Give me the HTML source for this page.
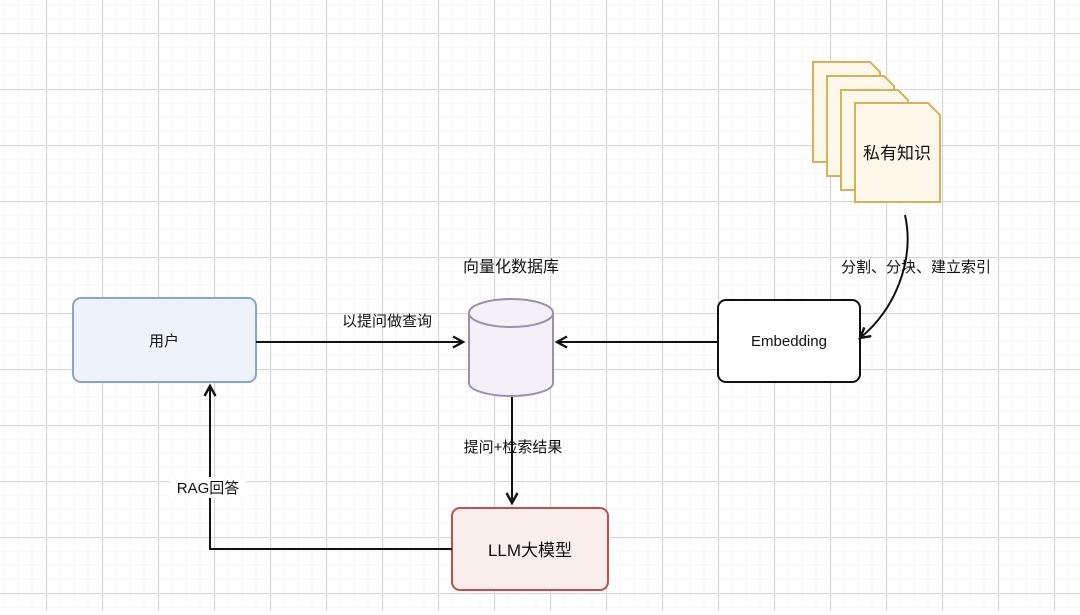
<!DOCTYPE html>
<html><head><meta charset="utf-8"><style>
body{margin:0;width:1080px;height:610px;overflow:hidden;background:#fff;font-family:"Liberation Sans","Noto Sans CJK SC",sans-serif;}
</style></head><body>
<svg width="1080" height="610" xmlns="http://www.w3.org/2000/svg" font-family="Liberation Sans, Noto Sans CJK SC, sans-serif">
<defs>
<pattern id="g" x="46" y="33" width="56" height="56" patternUnits="userSpaceOnUse">
<path d="M14 0V56M28 0V56M42 0V56M0 14H56M0 28H56M0 42H56" stroke="#f4f4f4" stroke-width="1" fill="none"/>
<path d="M0.5 0V56M0 0.5H56" stroke="#d6d6d6" stroke-width="1.3" fill="none"/>
</pattern>
<marker id="a" markerWidth="14" markerHeight="14" refX="11" refY="7" orient="auto" markerUnits="userSpaceOnUse"><path d="M1 1.5L11 7L1 12.5" fill="none" stroke="#111" stroke-width="2.4"/></marker>
</defs>
<rect width="1080" height="610" fill="url(#g)"/>
<g stroke="#d4b25a" stroke-width="2" fill="#fdf8ea">
<path d="M813 62H870L880 72V162H813Z"/>
<path d="M827 76H884L894 86V176H827Z"/>
<path d="M841 90H898L908 100V190H841Z"/>
<path d="M855 103H928L940 115V202H855Z"/>
</g>
<text x="897" y="159" font-size="17" text-anchor="middle" fill="#111">私有知识</text>
<rect x="73" y="298" width="183" height="84" rx="8" fill="#eef3fb" stroke="#8aa4d0" stroke-width="2"/>
<text x="164" y="346" font-size="15" text-anchor="middle" fill="#111">用户</text>
<rect x="718" y="300" width="142" height="82" rx="8" fill="#fff" stroke="#111" stroke-width="2"/>
<text x="789" y="346" font-size="15" text-anchor="middle" fill="#111">Embedding</text>
<rect x="452" y="508" width="156" height="82" rx="8" fill="#fbefee" stroke="#c0504d" stroke-width="2"/>
<text x="530" y="556" font-size="17" text-anchor="middle" fill="#111">LLM大模型</text>
<path d="M469 313V383A42 13 0 0 0 553 383V313" fill="#f3f0f8" stroke="#9a8fb0" stroke-width="2"/>
<ellipse cx="511" cy="313" rx="42" ry="14" fill="#f3f0f8" stroke="#9a8fb0" stroke-width="2"/>
<text x="511" y="272" font-size="16" text-anchor="middle" fill="#111">向量化数据库</text>
<g stroke="#111" stroke-width="2" fill="none">
<path d="M256 342H463" marker-end="url(#a)"/>
<path d="M718 342H557" marker-end="url(#a)"/>
<path d="M905 215C915 260 895 310 860 338" marker-end="url(#a)"/>
<path d="M512 397V503" marker-end="url(#a)"/>
<path d="M452 549H210V386" marker-end="url(#a)"/>
</g>
<text x="387" y="326" font-size="15" text-anchor="middle" fill="#111">以提问做查询</text>
<text x="916" y="272" font-size="15" text-anchor="middle" fill="#111">分割、分块、建立索引</text>
<text x="513" y="452" font-size="15" text-anchor="middle" fill="#111">提问+检索结果</text>
<rect x="170" y="477" width="76" height="21" fill="#fff"/>
<text x="208" y="493" font-size="15" text-anchor="middle" fill="#111">RAG回答</text>
</svg>
</body></html>
